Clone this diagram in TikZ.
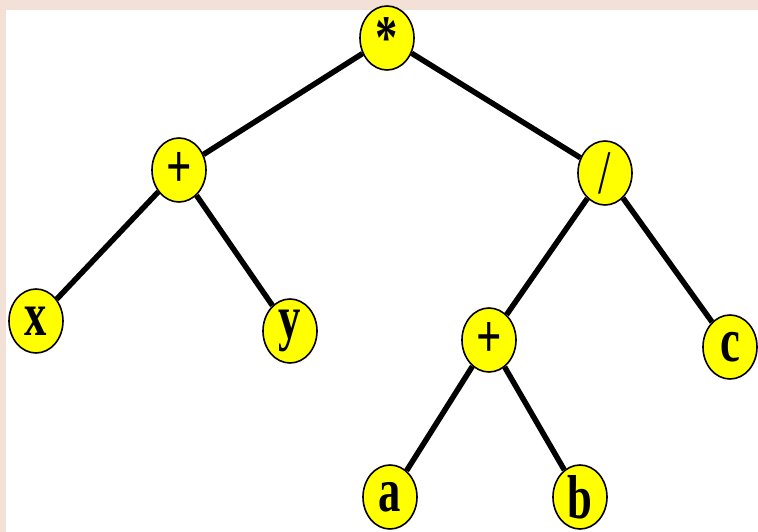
\documentclass[tikz,border=0pt]{standalone}
\usepackage{fontspec}
\setmainfont{Liberation Serif}
\usetikzlibrary{shapes.geometric}
\definecolor{framepink}{HTML}{F3E1D8}
\definecolor{nodeyellow}{HTML}{FFFF00}
\tikzset{
  tnode/.style={ellipse, draw=black, line width=1.6pt, fill=nodeyellow,
    minimum width=54pt, minimum height=64pt, inner sep=0pt,
    font=\fontsize{62}{62}\selectfont\bfseries},
  tedge/.style={line width=5.5pt, black}
}
\newcommand{\lbl}[1]{\scalebox{0.72}[1]{#1}}
\begin{document}
\begin{tikzpicture}[x=1pt,y=-1pt]
\useasboundingbox (0,0) rectangle (758,532);
\fill[framepink] (0,0) rectangle (758,10);
\fill[framepink] (0,0) rectangle (6,532);
\node[tnode] (root) at (387,38) {\lbl{*}};
\node[tnode] (plus1) at (179,170) {\lbl{+}};
\node[tnode] (div) at (605,173) {\lbl{\mdseries/}};
\node[tnode] (x) at (36,321) {\lbl{x}};
\node[tnode] (y) at (290,331) {\lbl{y}};
\node[tnode] (plus2) at (489,340) {\lbl{+}};
\node[tnode] (c) at (730,347) {\lbl{c}};
\node[tnode] (a) at (390,497) {\lbl{a}};
\node[tnode] (b) at (580,497) {\lbl{b}};
\draw[tedge] (root) -- (plus1);
\draw[tedge] (root) -- (div);
\draw[tedge] (plus1) -- (x);
\draw[tedge] (plus1) -- (y);
\draw[tedge] (div) -- (plus2);
\draw[tedge] (div) -- (c);
\draw[tedge] (plus2) -- (a);
\draw[tedge] (plus2) -- (b);
\end{tikzpicture}
\end{document}
